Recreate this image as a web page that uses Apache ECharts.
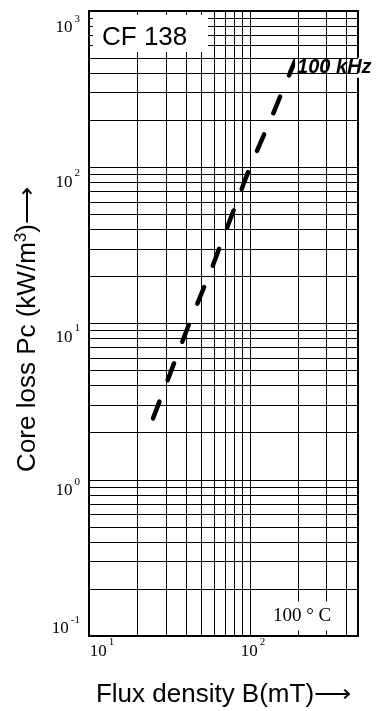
<!DOCTYPE html>
<html>
<head>
<meta charset="utf-8">
<script src="https://cdn.jsdelivr.net/npm/echarts@6/dist/echarts.min.js"></script>
<style>
html, body { margin: 0; padding: 0; background: #fff; }
#chart { width: 376px; height: 711px; }
</style>
</head>
<body>
<div id="chart"></div>
<script>
// 100 kHz curve: flux density B (mT) -> core loss Pc (kW/m3)
const fluxB = [25, 42, 58, 100, 137, 191];
const lossPc = [2.47, 10, 22.6, 100, 211, 481];

// grid lines and decade labels
const xGridLines = [20, 30, 40, 50, 60, 70, 80, 90, 100, 200, 300, 400];
const yGridLines = [0.2, 0.3, 0.4, 0.5, 0.6, 0.7, 0.8, 0.9, 1,
    2, 3, 4, 5, 6, 7, 8, 9, 10,
    20, 30, 40, 50, 60, 70, 80, 90, 100,
    200, 300, 400, 500, 600, 700, 800, 900];
const xTicks = [10, 100];
const yTicks = [0.1, 1, 10, 100, 1000];
const xRange = [10, 470];
const yRange = [0.1, 1000];

const serif = '"Liberation Serif", "DejaVu Serif", serif';
const sans = '"Liberation Sans", Arial, sans-serif';

// label "10" with a raised exponent; dy moves it down (+) or up (-), padLeft pushes it right
function supStyle(dy, padLeft) {
    const top = dy > 0 ? 2 * dy : 0;
    const bot = dy < 0 ? -2 * dy : 0;
    return {
        b: { fontFamily: serif, fontSize: 17, lineHeight: 17, color: '#000', verticalAlign: 'middle', padding: [top, 0, bot, padLeft] },
        e: { fontFamily: serif, fontSize: 11, lineHeight: 11, color: '#000', verticalAlign: 'middle', padding: [top, 0, 18 + bot, 2] }
    };
}
function expKey(v) {
    const n = Math.round(Math.log10(v));
    return n < 0 ? 'm' + (-n) : 'p' + n;
}
function decadeLabel(v) {
    const n = Math.round(Math.log10(v));
    if (Math.abs(Math.log10(v) - n) > 1e-6) return '';
    const k = expKey(v);
    return '{b' + k + '|10}{e' + k + '|' + n + '}';
}

const yShift = { '3': 17, '2': 15, '1': 14, '0': 11, '-1': -7 };
const xPad = { '1': 26, '2': 6 };
const yRich = {}, xRich = {};
yTicks.forEach(v => {
    const n = Math.round(Math.log10(v)), k = expKey(v), s = supStyle(yShift[n], 0);
    yRich['b' + k] = s.b; yRich['e' + k] = s.e;
});
xTicks.forEach(v => {
    const n = Math.round(Math.log10(v)), k = expKey(v), s = supStyle(0, xPad[n]);
    xRich['b' + k] = s.b; xRich['e' + k] = s.e;
});

const myChart = echarts.init(document.getElementById('chart'));
const option = {
    animation: false,
    backgroundColor: '#fff',
    grid: {
        left: 89, right: 18, top: 11, bottom: 75,
        outerBoundsMode: 'none', containLabel: false,
        show: true, borderColor: '#000', borderWidth: 2
    },
    xAxis: {
        type: 'log', logBase: 10, min: xRange[0], max: xRange[1],
        name: 'Flux density B(mT)⟶',
        nameLocation: 'middle', nameGap: 44, nameMoveOverlap: false,
        nameTextStyle: { fontFamily: sans, fontSize: 26, lineHeight: 30, color: '#000' },
        axisLine: { show: false }, axisTick: { show: false }, splitLine: { show: false },
        axisLabel: { formatter: decadeLabel, margin: 7, rich: xRich, showMaxLabel: false }
    },
    yAxis: {
        type: 'log', logBase: 10, min: yRange[0], max: yRange[1],
        name: 'Core loss Pc (kW/m{s|3})⟶',
        nameLocation: 'middle', nameGap: 46, nameMoveOverlap: false,
        nameTextStyle: {
            fontFamily: sans, fontSize: 26, lineHeight: 30, color: '#000', padding: [0, 12, 0, 0],
            rich: { s: { fontFamily: sans, fontSize: 17, lineHeight: 17, color: '#000', verticalAlign: 'top', padding: [0, 0, 20, 0] } }
        },
        axisLine: { show: false }, axisTick: { show: false }, splitLine: { show: false },
        axisLabel: { formatter: decadeLabel, margin: 9, rich: yRich }
    },
    graphic: [
        { type: 'rect', z: 50, shape: { x: 93, y: 15, width: 115, height: 37 }, style: { fill: '#fff' } },
        { type: 'text', z: 51, x: 102, y: 38,
          style: { text: 'CF 138', fontFamily: sans, fontSize: 26, fill: '#000', verticalAlign: 'middle' } },
        { type: 'text', z: 51, x: 271, y: 616,
          style: { text: '100 ° C', fontFamily: serif, fontSize: 19, fill: '#000', verticalAlign: 'middle',
                   backgroundColor: '#fff', padding: [3, 2, 7, 2] } }
    ],
    series: [
        {
            type: 'line', z: 1, silent: true, data: [],
            markLine: {
                silent: true, symbol: 'none', animation: false,
                label: { show: false },
                emphasis: { disabled: true },
                lineStyle: { color: '#000', width: 1, type: 'solid' },
                data: xGridLines.map(v => ({ xAxis: v })).concat(yGridLines.map(v => ({ yAxis: v })))
            }
        },
        {
            name: '100 kHz', type: 'line', z: 3, silent: true,
            data: fluxB.map((b, i) => [b, lossPc[i]]),
            showSymbol: false, symbol: 'none',
            lineStyle: { color: '#000', width: 4.5, type: [18, 23], cap: 'round' },
            endLabel: {
                show: true, formatter: '100 kHz', distance: 0, offset: [0, 7],
                fontFamily: sans, fontSize: 20, fontStyle: 'italic', fontWeight: 'bold', color: '#000',
                backgroundColor: '#fff', padding: [0, 2, 0, 2]
            }
        }
    ]
};
myChart.setOption(option, true);
</script>
</body>
</html>
